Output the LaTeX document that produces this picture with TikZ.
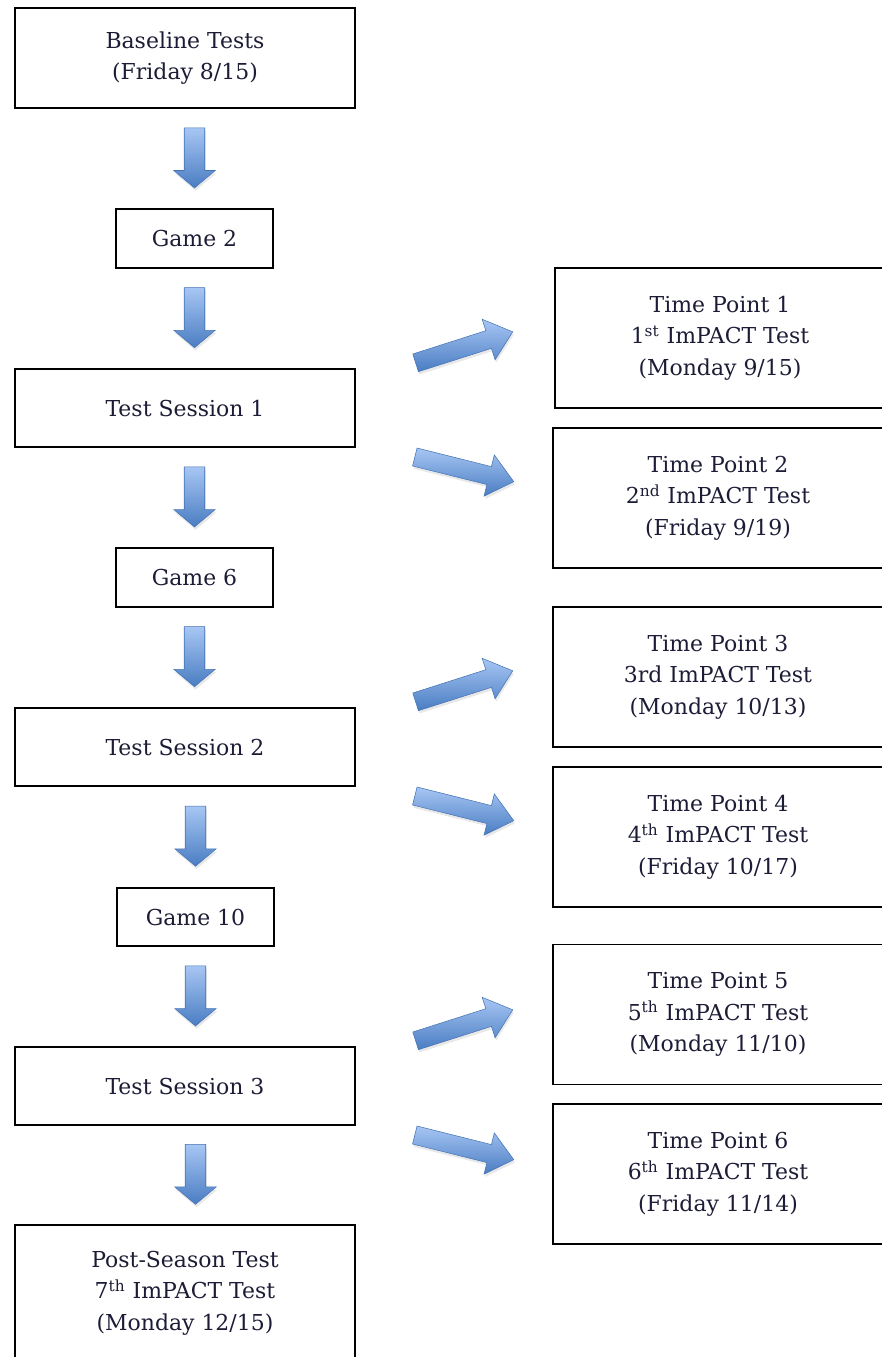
\documentclass[tikz,border=0pt]{standalone}
\usepackage{fontspec}
\setmainfont{DejaVu Serif}
\usetikzlibrary{shapes.arrows,calc,shadows}
\definecolor{arrowlight}{HTML}{A7C6F4}
\definecolor{arrowdark}{HTML}{4A7DC2}
\definecolor{arrowedge}{HTML}{4573B5}
\definecolor{textcol}{HTML}{1C1C36}
\tikzset{
  box/.style={draw, line width=1.1pt, align=center, text=textcol,
    font=\fontsize{12.5}{18}\selectfont, inner sep=0pt},
  bigbox/.style={box, minimum width=6.8cm, minimum height=1.56cm},
  gamebox/.style={box, minimum width=3.14cm, minimum height=1.17cm},
  tpbox/.style={box, minimum width=6.6cm, minimum height=2.8cm},
  blockarrow/.style={single arrow, draw=arrowedge, line width=0.3pt,
    top color=arrowlight, bottom color=arrowdark,
    drop shadow={opacity=0.18, shadow xshift=0.6pt, shadow yshift=-1.6pt}},
  downarrow/.style={blockarrow, shape border rotate=270, inner sep=0.2cm,
    minimum height=1.2cm, minimum width=0.82cm,
    single arrow head extend=0.21cm, single arrow tip angle=100},
  sidearrow/.style={blockarrow, inner sep=0.18cm, minimum height=2.04cm,
    minimum width=0.84cm, single arrow head extend=0.24cm, single arrow tip angle=80}
}
\begin{document}
\begin{tikzpicture}[x=0.02cm,y=-0.02cm]
\useasboundingbox (0,0) rectangle (882,1357);
% left column
\node[bigbox, minimum height=2cm] (base) at (185,58) {Baseline Tests\\(Friday 8/15)};
\node[gamebox] (g2) at (194.5,238.5) {Game 2};
\node[bigbox] (ts1) at (185,408) {Test Session 1};
\node[gamebox] (g6) at (194.5,577.5) {Game 6};
\node[bigbox] (ts2) at (185,747) {Test Session 2};
\node[gamebox] (g10) at (195.5,917) {Game 10};
\node[bigbox] (ts3) at (185,1086) {Test Session 3};
\node[bigbox, minimum height=2.72cm] (post) at (185,1293) {Post-Season Test\\7\textsuperscript{th} ImPACT Test\\(Monday 12/15)};
% right column
\node[tpbox] (tp1) at (720,338) {Time Point 1\\1\textsuperscript{st} ImPACT Test\\(Monday 9/15)};
\node[tpbox] (tp2) at (718,498) {Time Point 2\\2\textsuperscript{nd} ImPACT Test\\(Friday 9/19)};
\node[tpbox] (tp3) at (718,677) {Time Point 3\\3rd ImPACT Test\\(Monday 10/13)};
\node[tpbox] (tp4) at (718,837) {Time Point 4\\4\textsuperscript{th} ImPACT Test\\(Friday 10/17)};
\node[tpbox] (tp5) at (718,1014.5) {Time Point 5\\5\textsuperscript{th} ImPACT Test\\(Monday 11/10)};
\node[tpbox] (tp6) at (718,1174) {Time Point 6\\6\textsuperscript{th} ImPACT Test\\(Friday 11/14)};
% arrows
\foreach \a/\b/\c in {base/g2/g2, g2/ts1/g2, ts1/g6/g6, g6/ts2/g6, ts2/g10/g10, g10/ts3/g10, ts3/post/g10}
  \node[downarrow] at ($(\a.south -| \c)!0.5!(\b.north -| \c)+(0,-5)$) {};
\foreach \s in {ts1,ts2,ts3} {
  \node[sidearrow, rotate=17.7] at ($(\s.east)+(103,-59)$) {};
  \node[sidearrow, rotate=-14] at ($(\s.east)+(103,60)$) {};
}
\end{tikzpicture}
\end{document}
